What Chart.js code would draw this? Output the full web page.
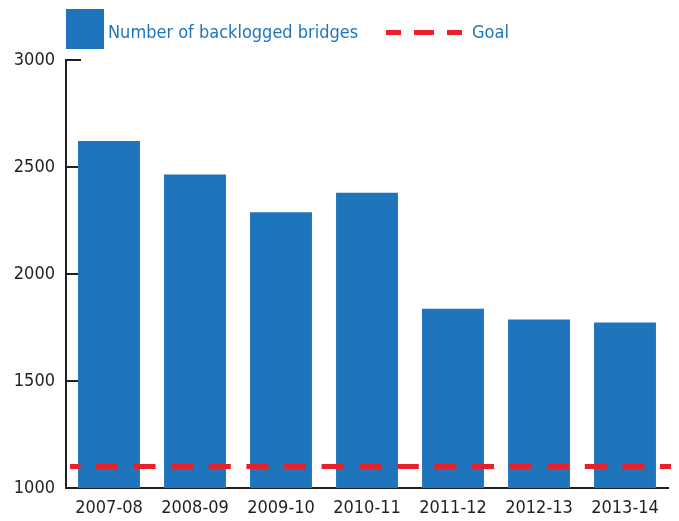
<!DOCTYPE html>
<html>
<head>
<meta charset="utf-8">
<script src="https://cdn.jsdelivr.net/npm/chart.js@4"></script>
<style>
  body { margin: 0; background: #fff; }
  #wrap { position: relative; width: 679px; height: 521px; }
  #bridgeChart { position: absolute; left: 0; top: 0; }
  .legend { position: absolute; font-family: 'DejaVu Sans Condensed', 'Liberation Sans Narrow', sans-serif; font-size: 18px; color: #1f75bc; line-height: 20px; white-space: nowrap; }
  .swatch { position: absolute; background: #1f75bc; }
  .dash { position: absolute; background: #e8202a; height: 5px; }
</style>
</head>
<body>
<div id="wrap">
  <canvas id="bridgeChart" width="679" height="521"></canvas>
  <div class="swatch" style="left:66px; top:9px; width:38px; height:40px;"></div>
  <div class="legend" style="left:108px; top:22px;">Number of backlogged bridges</div>
  <div class="dash" style="left:386px; top:30px; width:15px;"></div>
  <div class="dash" style="left:414px; top:30px; width:20px;"></div>
  <div class="dash" style="left:447px; top:30px; width:15px;"></div>
  <div class="legend" style="left:472px; top:22px;">Goal</div>
</div>
<script>
// Backlogged bridges by fiscal year
const years = ['2007-08', '2008-09', '2009-10', '2010-11', '2011-12', '2012-13', '2013-14'];
const backlog = [2622, 2465, 2288, 2380, 1838, 1787, 1773];
const goal = 1100;
const yTicks = [1000, 1500, 2000, 2500, 3000];

const FONT = "'DejaVu Sans Condensed', 'Liberation Sans Narrow', sans-serif";
const AXIS_COLOR = '#231f20';

// short tick marks pointing into the plot, drawn under the bars
const innerTicks = {
  id: 'innerTicks',
  beforeDatasetsDraw(chart) {
    const { ctx, chartArea, scales } = chart;
    ctx.save();
    ctx.strokeStyle = AXIS_COLOR;
    ctx.lineWidth = 2;
    yTicks.forEach(v => {
      const y = scales.y.getPixelForValue(v);
      ctx.beginPath();
      ctx.moveTo(chartArea.left, y);
      ctx.lineTo(chartArea.left + 15, y);
      ctx.stroke();
    });
    ctx.restore();
  }
};

// dashed goal line across the whole plot (runs a little past the axis end)
const goalLine = {
  id: 'goalLine',
  afterDatasetsDraw(chart) {
    const { ctx, chartArea, scales } = chart;
    const y = scales.y.getPixelForValue(goal);
    ctx.save();
    ctx.strokeStyle = '#e8202a';
    ctx.lineWidth = 5;
    ctx.setLineDash([22, 15.6]);
    ctx.lineDashOffset = 11.6;
    ctx.beginPath();
    ctx.moveTo(chartArea.left + 4, y);
    ctx.lineTo(chartArea.right + 3, y);
    ctx.stroke();
    ctx.restore();
  }
};

const ctx = document.getElementById('bridgeChart').getContext('2d');
new Chart(ctx, {
  type: 'bar',
  data: {
    labels: years,
    datasets: [{
      label: 'Number of backlogged bridges',
      data: backlog,
      backgroundColor: '#1f75bc',
      borderWidth: 0,
      barPercentage: 0.72,
      categoryPercentage: 1
    }]
  },
  options: {
    responsive: false,
    animation: false,
    layout: { padding: { top: 60, right: 11, left: 0, bottom: 0 } },
    plugins: {
      legend: { display: false },
      tooltip: { enabled: false }
    },
    scales: {
      x: {
        grid: { display: true, drawOnChartArea: false, drawTicks: false },
        border: { color: AXIS_COLOR, width: 2 },
        ticks: { color: '#231f20', font: { family: FONT, size: 18 }, padding: 10, maxRotation: 0 },
        afterFit(scale) { scale.height = 33; }
      },
      y: {
        min: 1000,
        max: 3000,
        grid: { display: true, drawOnChartArea: false, drawTicks: false },
        border: { color: AXIS_COLOR, width: 2 },
        ticks: {
          stepSize: 500,
          color: '#231f20',
          font: { family: FONT, size: 18 },
          padding: 11,
          callback: v => String(v)
        },
        afterFit(scale) { scale.width = 66; }
      }
    }
  },
  plugins: [innerTicks, goalLine]
});
</script>
</body>
</html>
